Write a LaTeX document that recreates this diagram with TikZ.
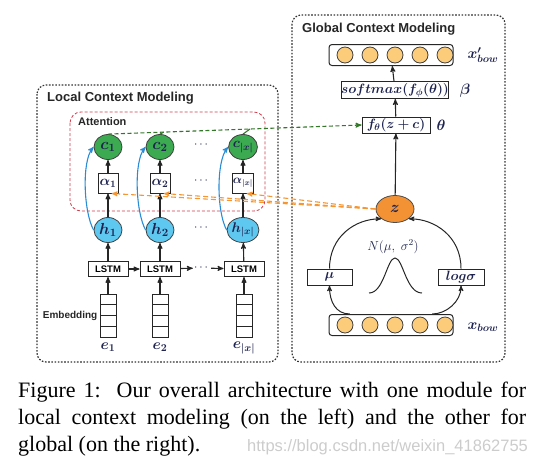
\RequirePackage{fix-cm}
\documentclass[tikz,border=0pt]{standalone}
\usepackage{fontspec}
\setmainfont{Liberation Serif}
\setsansfont{Liberation Sans}
\usepackage{amsmath, amssymb, bm}
\usetikzlibrary{arrows,calc,shapes.geometric}

\definecolor{ink}{RGB}{30,35,80}
\definecolor{cgreen}{RGB}{60,170,80}
\definecolor{hblue}{RGB}{95,200,240}
\definecolor{zorange}{RGB}{243,146,52}
\definecolor{bowfill}{RGB}{253,204,122}
\definecolor{curveblue}{RGB}{40,140,215}
\definecolor{dgreen}{RGB}{50,120,40}
\definecolor{dorange}{RGB}{245,150,50}
\definecolor{attred}{RGB}{205,60,75}

\begin{document}
\begin{tikzpicture}[x=1pt,y=-1pt,>=stealth',
  flow/.style={->,draw=black!85,line width=1.1pt},
  frame/.style={draw=black!80,line width=1.2pt,dash pattern=on 1.6pt off 1.6pt,rounded corners=9pt},
  title/.style={anchor=west,inner sep=0pt,text=black!85,font=\sffamily\bfseries\fontsize{13}{13}\selectfont},
  lbl/.style={inner sep=0pt,text=ink,font=\fontsize{15}{15}\selectfont},
  main box/.style={draw=black!85,fill=white,line width=1pt,inner sep=0pt,text=ink,font=\fontsize{13.5}{13.5}\selectfont},
  lstm node/.style={main box,text=black,minimum width=40pt,minimum height=15pt,font=\sffamily\bfseries\fontsize{9.5}{9.5}\selectfont},
  att node/.style={main box,minimum size=20pt,font=\fontsize{14}{14}\selectfont},
  c node/.style={ellipse,draw=black!75,line width=0.8pt,fill=cgreen,inner sep=0pt,minimum width=28pt,minimum height=25pt,text=ink,font=\fontsize{16}{16}\selectfont},
  h node/.style={c node,fill=hblue},
  emb node/.style={draw=black!85,line width=1pt,minimum width=16pt,minimum height=43pt,inner sep=0pt,
    path picture={\foreach \f in {0.25,0.5,0.75}
      \draw[black!85,line width=1pt] ($(path picture bounding box.north west)!\f!(path picture bounding box.south west)$) -- ($(path picture bounding box.north east)!\f!(path picture bounding box.south east)$);}},
  bow box/.style={main box,rounded corners=3pt,minimum width=124pt,minimum height=21pt},
  bow unit/.style={circle,draw=black!75,line width=0.8pt,fill=bowfill,minimum size=16pt,inner sep=0pt},
  dots/.style={inner sep=1pt,text=ink,font=\fontsize{12}{12}\selectfont},
  caption line/.style={anchor=base west,inner sep=0pt,font=\fontsize{22}{22}\selectfont}]

  \useasboundingbox (0,0) rectangle (537,466);

  % frames
  \draw[frame] (37,85) rectangle (278,362);
  \draw[frame] (292,15) rectangle (505,362);
  \draw[draw=attred,line width=0.8pt,dash pattern=on 3pt off 2pt,rounded corners=11pt] (70,112) rectangle (265,211);
  \node[title] (loct) at (47,98) {Local Context Modeling};
  \node[title] (glot) at (302,29) {Global Context Modeling};
  \node[title,font=\sffamily\bfseries\fontsize{11}{11}\selectfont] (attt) at (78,122) {Attention};

  % local context modeling
  \node[emb node] (e1) at (108,315.5) {};
  \node[emb node] (e2) at (160,315.5) {};
  \node[emb node] (e3) at (244,315.5) {};
  \node[lbl] (e1l) at (108,347) {$\bm{e_1}$};
  \node[lbl] (e2l) at (160,347) {$\bm{e_2}$};
  \node[lbl] (e3l) at (244,348) {$\bm{e_{|x|}}$};
  \node[anchor=east,inner sep=2pt,text=black!85,font=\sffamily\bfseries\fontsize{10}{10}\selectfont] (embl) at (e1.west) {Embedding};

  \node[lstm node] (l1) at (108,269) {LSTM};
  \node[lstm node] (l2) at (160,269) {LSTM};
  \node[dots] (ld) at (202,268) {$\cdots$};
  \node[lstm node] (l3) at (244,269) {LSTM};

  \node[h node] (h1) at (108,230) {$\bm{h_1}$};
  \node[h node] (h2) at (160,230) {$\bm{h_2}$};
  \node[dots] (hd) at (202,228) {$\cdots$};
  \node[h node,font=\fontsize{14}{14}\selectfont] (h3) at (243,230) {$\bm{h_{|x|}}$};

  \node[att node] (a1) at (108,183) {$\bm{\alpha_1}$};
  \node[att node] (a2) at (160,183) {$\bm{\alpha_2}$};
  \node[dots] (ad) at (202,181) {$\cdots$};
  \node[att node,font=\fontsize{12}{12}\selectfont] (a3) at (243,183) {$\bm{\alpha_{|x|}}$};

  \node[c node] (c1) at (108,147) {$\bm{c_1}$};
  \node[c node] (c2) at (160,147) {$\bm{c_2}$};
  \node[dots] (cd) at (202,145) {$\cdots$};
  \node[c node,font=\fontsize{14}{14}\selectfont] (c3) at (243,147) {$\bm{c_{|x|}}$};

  % global context modeling
  \node[bow box] (xout) at (391,55) {};
  \node[bow unit] (o1) at (345,55) {};
  \node[bow unit] (o2) at (370,55) {};
  \node[bow unit] (o3) at (395,55) {};
  \node[bow unit] (o4) at (420,55) {};
  \node[bow unit] (o5) at (445,55) {};
  \node[lbl] (xoutl) at (483,55) {$\bm{x'_{bow}}$};

  \node[main box,minimum width=107pt,minimum height=17pt] (sm) at (395,90) {$\bm{softmax(f_\phi(\theta))}$};
  \node[lbl] (betal) at (465,91) {$\bm{\beta}$};
  \node[main box,minimum width=68pt,minimum height=16pt] (ft) at (396,125) {$\bm{f_\theta(z+c)}$};
  \node[lbl] (thetal) at (441,125) {$\bm{\theta}$};

  \node[ellipse,draw=black!70,line width=0.8pt,fill=zorange,inner sep=0pt,minimum width=38pt,minimum height=27pt,text=ink,font=\fontsize{16}{16}\selectfont] (z) at (395,209) {$\bm{z}$};
  \node[lbl,font=\fontsize{13}{13}\selectfont] (nlab) at (393,247) {$N(\mu,\;\sigma^2)$};
  \node[main box,minimum width=45pt,minimum height=16pt] (mu) at (329.5,277) {$\bm{\mu}$};
  \node[main box,minimum width=46pt,minimum height=16pt] (logs) at (461,277) {$\bm{log\sigma}$};

  \node[bow box] (xin) at (391,325) {};
  \node[bow unit] (i1) at (345,325) {};
  \node[bow unit] (i2) at (370,325) {};
  \node[bow unit] (i3) at (395,325) {};
  \node[bow unit] (i4) at (420,325) {};
  \node[bow unit] (i5) at (445,325) {};
  \node[lbl] (xinl) at (483,327) {$\bm{x_{bow}}$};

  \draw[black!85,line width=1pt] (369,293) .. controls (384,293) and (387,258) .. (395,258)
    .. controls (403,258) and (406,293) .. (422,293);

  % connections
  \path[flow]
    (e1) edge (l1)
    (e2) edge (l2)
    (e3) edge (l3)
    (l1) edge (l2)
    (l2) edge (ld)
    (ld) edge (l3)
    (l1) edge (h1)
    (l2) edge (h2)
    (l3) edge (h3)
    (h1) edge (a1)
    (h2) edge (a2)
    (h3) edge (a3)
    (a1) edge (c1)
    (a2) edge (c2)
    (a3) edge (c3)
    (z) edge (ft)
    (ft) edge (sm)
    (sm) edge (xout);

  \draw[->,curveblue,line width=1.1pt] (h1.west) .. controls +(-10,-18) and +(-12,14) .. (c1.west);
  \draw[->,curveblue,line width=1.1pt] (h2.west) .. controls +(-10,-18) and +(-12,14) .. (c2.west);
  \draw[->,curveblue,line width=1.1pt] (h3.west) .. controls +(-10,-18) and +(-12,14) .. (c3.west);

  \draw[->,dgreen,line width=1.1pt,dash pattern=on 4pt off 2.5pt] (c1.north) -- (ft.west);
  \draw[dgreen,line width=1.1pt] (c2.north) -- ($(c1.north)!0.22!(ft.west)$);
  \draw[dgreen,line width=1.1pt] (c3.north) -- ($(c1.north)!0.56!(ft.west)$);

  \draw[->,dorange,line width=1.1pt,dash pattern=on 5pt off 3pt] (z.west) -- ($(a1.south)!0.35!(a1.south east)$);
  \draw[->,dorange,line width=1.1pt,dash pattern=on 5pt off 3pt] (z.west) -- ($(a2.south)!0.35!(a2.south east)$);
  \draw[->,dorange,line width=1.1pt,dash pattern=on 5pt off 3pt] (z.west) -- ($(a3.south)!0.35!(a3.south east)$);

  \draw[flow,line width=1pt] ($(xin.north west)!0.17!(xin.north east)$) .. controls +(-14,0) and +(0,16) .. (mu.south);
  \draw[flow,line width=1pt] (mu.north) .. controls +(0,-32) and +(-26,0) .. (z.south west);
  \draw[flow,line width=1pt] ($(xin.north west)!0.83!(xin.north east)$) .. controls +(14,0) and +(0,16) .. (logs.south);
  \draw[flow,line width=1pt] (logs.north) .. controls +(0,-32) and +(26,0) .. (z.south east);

  % caption
  \node[caption line] (cap1) at (18,397) {\makebox[508pt][s]{Figure 1:\ \ Our overall architecture with one module for}};
  \node[caption line] (cap2) at (18,424) {\makebox[508pt][s]{local context modeling (on the left) and the other for}};
  \node[caption line] (cap3) at (18,451) {global (on the right).};
  \node[anchor=base west,inner sep=0pt,text=black!20,font=\sffamily\fontsize{16.5}{16.5}\selectfont] (wm) at (247,451) {https://blog.csdn.net/weixin\_41862755};
\end{tikzpicture}
\end{document}
